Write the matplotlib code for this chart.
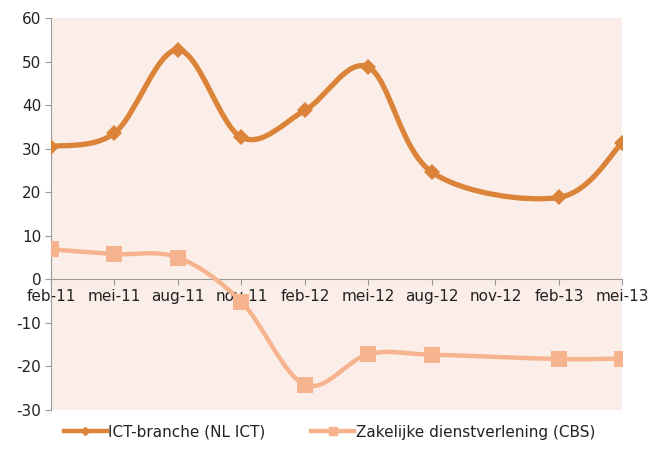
import numpy as np
import matplotlib.pyplot as plt
from matplotlib.path import Path
from matplotlib.patches import PathPatch
from matplotlib.lines import Line2D

plt.rcParams['axes.unicode_minus'] = False

categories = ['feb-11', 'mei-11', 'aug-11', 'nov-11', 'feb-12', 'mei-12',
              'aug-12', 'nov-12', 'feb-13', 'mei-13']
ict = [30.5, 33.6, 52.7, 32.6, 38.8, 48.7, 24.6, None, 18.8, 31.4]
cbs = [6.9, 5.8, 5.0, -5.2, -24.2, -17.2, -17.3, None, -18.3, -18.2]

ict_label = 'ICT-branche (NL ICT)'
cbs_label = 'Zakelijke dienstverlening (CBS)'
ict_color = '#DB8439'
cbs_color = '#F6B48E'


def smooth_path(xs, ys):
    # excel-style smoothed line: bezier through points, tension 1/6
    pts = np.column_stack([xs, ys])
    n = len(pts)
    verts = [pts[0]]
    codes = [Path.MOVETO]
    for i in range(n - 1):
        p0 = pts[i - 1] if i > 0 else pts[i]
        p1 = pts[i]
        p2 = pts[i + 1]
        p3 = pts[i + 2] if i + 2 < n else pts[i + 1]
        c1 = p1 + (p2 - p0) / 6.0
        c2 = p2 - (p3 - p1) / 6.0
        verts += [c1, c2, p2]
        codes += [Path.CURVE4] * 3
    return Path(verts, codes)


fig = plt.figure(figsize=(6.59, 4.51), dpi=100)
ax = fig.add_axes([0.0774, 0.091, 0.867, 0.869])
ax.set_facecolor('#FBEEE8')

x = np.arange(len(categories))


def draw(vals, color, lw, marker, ms):
    xs = [xi for xi, v in zip(x, vals) if v is not None]
    ys = [v for v in vals if v is not None]
    ax.add_patch(PathPatch(smooth_path(np.array(xs, float), np.array(ys, float)),
                           facecolor='none', edgecolor=color, lw=lw,
                           capstyle='round', joinstyle='round', zorder=3))
    ax.plot(xs, ys, linestyle='none', marker=marker, ms=ms, color=color,
            markeredgewidth=0, zorder=4)


draw(ict, ict_color, 3.8, 'D', 8)
draw(cbs, cbs_color, 3.2, 's', 11)

ax.set_xlim(0, len(categories) - 1)
ax.set_ylim(-30, 60)
ax.set_yticks(range(-30, 61, 10))
ax.set_xticks(x)
ax.set_xticklabels(categories)

for s in ['top', 'right']:
    ax.spines[s].set_visible(False)
ax.spines['bottom'].set_position(('data', 0))
ax.spines['bottom'].set_color('#9A9A9A')
ax.spines['left'].set_color('#9A9A9A')
ax.tick_params(axis='y', length=4, color='#9A9A9A', labelsize=11,
               labelcolor='#222222', pad=3)
ax.tick_params(axis='x', length=4, color='#9A9A9A', labelsize=11,
               labelcolor='#222222', pad=3, direction='out')

handles = [
    Line2D([], [], color=ict_color, lw=3.2, marker='D', ms=4),
    Line2D([], [], color=cbs_color, lw=3.2, marker='s', ms=6),
]
leg = fig.legend(handles, [ict_label, cbs_label], loc='lower center',
                 bbox_to_anchor=(0.5, -0.005), ncol=2, frameon=False, fontsize=11,
                 handlelength=2.8, handletextpad=0.1, columnspacing=3.0)
for t in leg.get_texts():
    t.set_color('#222222')

fig.savefig('out.png', dpi=100)
